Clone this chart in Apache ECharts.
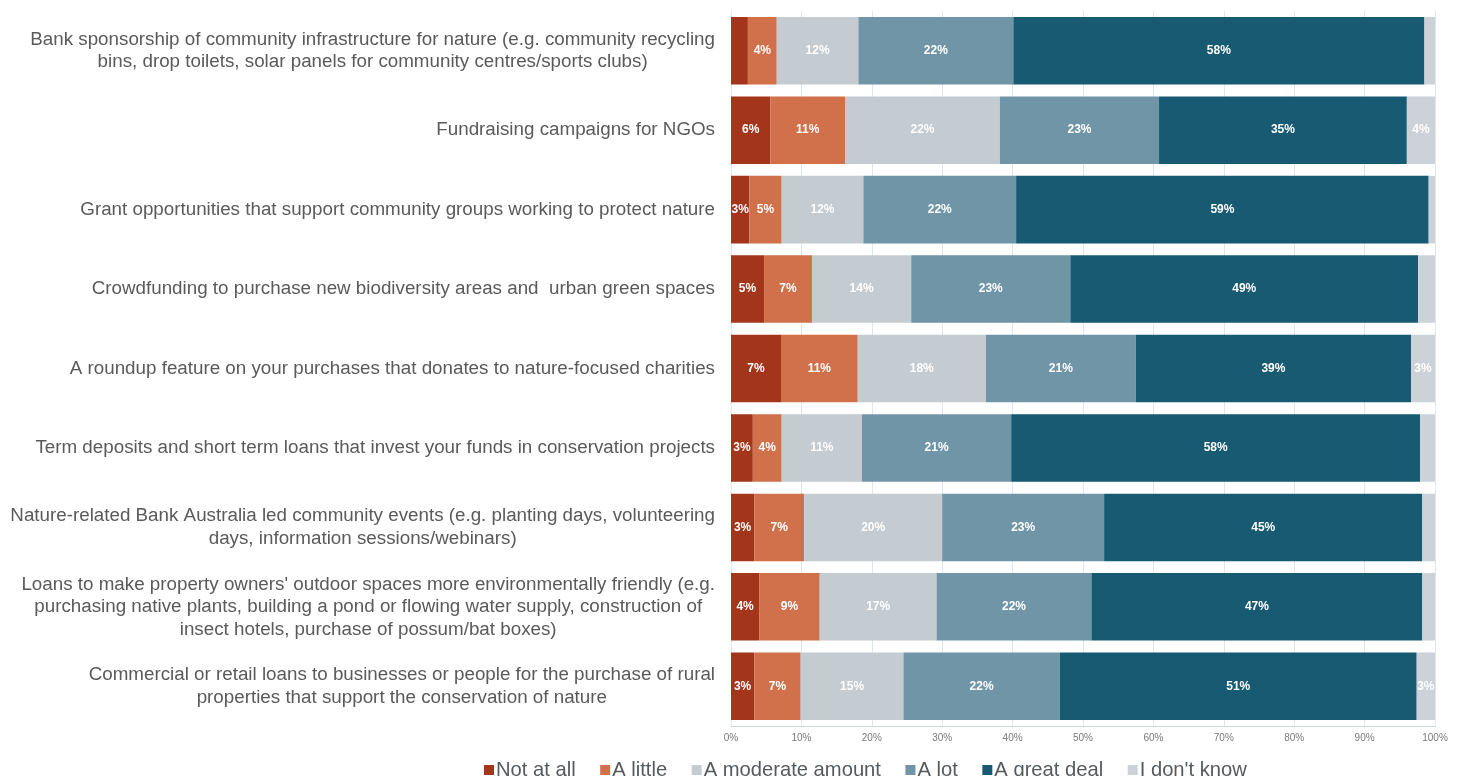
<!DOCTYPE html>
<html>
<head>
<meta charset="utf-8">
<script src="https://cdn.jsdelivr.net/npm/echarts@6/dist/echarts.min.js"></script>
<style>
  html, body { margin: 0; padding: 0; background: #ffffff; }
  #chart { width: 1461px; height: 776px; }
</style>
</head>
<body>
<div id="chart"></div>
<script>
// Survey items (top to bottom)
const categories = [
  "Bank sponsorship of community infrastructure for nature (e.g. community recycling\nbins, drop toilets, solar panels for community centres/sports clubs)",
  "Fundraising campaigns for NGOs",
  "Grant opportunities that support community groups working to protect nature",
  "Crowdfunding to purchase new biodiversity areas and  urban green spaces",
  "A roundup feature on your purchases that donates to nature-focused charities",
  "Term deposits and short term loans that invest your funds in conservation projects",
  "Nature-related Bank Australia led community events (e.g. planting days, volunteering\ndays, information sessions/webinars)",
  "Loans to make property owners' outdoor spaces more environmentally friendly (e.g.\npurchasing native plants, building a pond or flowing water supply, construction of\ninsect hotels, purchase of possum/bat boxes)",
  "Commercial or retail loans to businesses or people for the purchase of rural\nproperties that support the conservation of nature"
];

// Response shares (%) per item
const notAtAll   = [2.4, 5.6, 2.6, 4.7, 7.1, 3.1, 3.3, 4.0, 3.3];
const aLittle    = [4.1, 10.6, 4.6, 6.8, 10.9, 4.1, 7.1, 8.6, 6.6];
const moderate   = [11.6, 22.0, 11.6, 14.1, 18.2, 11.4, 19.6, 16.6, 14.6];
const aLot       = [22.0, 22.6, 21.7, 22.6, 21.3, 21.2, 23.0, 22.0, 22.2];
const greatDeal  = [58.4, 35.2, 58.6, 49.4, 39.1, 58.1, 45.2, 47.0, 50.7];
const dontKnow   = [1.5, 4.0, 0.9, 2.4, 3.4, 2.1, 1.8, 1.8, 2.6];

const seriesNames = ["Not at all", "A little", "A moderate amount", "A lot", "A great deal", "I don't know"];
const seriesData = [notAtAll, aLittle, moderate, aLot, greatDeal, dontKnow];
const colors = ["#a3351a", "#d0714b", "#c4cbd1", "#7095a6", "#175a72", "#ccd2d7"];

const tickLabels = ["0%", "10%", "20%", "30%", "40%", "50%", "60%", "70%", "80%", "90%", "100%"];

const narrowFont = "'Liberation Sans Narrow', 'Arial Narrow', 'Liberation Sans', Arial, sans-serif";
const boldFont = "'Liberation Sans', Arial, sans-serif";

const chart = echarts.init(document.getElementById('chart'), null, { renderer: 'canvas' });

const option = {
  backgroundColor: '#ffffff',
  animation: false,
  color: colors,
  grid: { left: 731, right: 26, top: 11, bottom: 50, containLabel: false },
  legend: {
    data: seriesNames,
    left: 479,
    top: 755,
    itemWidth: 10,
    itemHeight: 10,
    itemGap: 24.5,
    icon: 'rect',
    textStyle: { fontFamily: narrowFont, fontSize: 20.2, color: '#555a5e', padding: [0, 0, 0, -3] }
  },
  xAxis: {
    type: 'value',
    min: 0,
    max: 100,
    interval: 10,
    axisLine: { show: true, lineStyle: { color: '#c9d6de', width: 1 } },
    axisTick: { show: false },
    splitLine: { show: true, lineStyle: { color: '#dfe6ea', width: 1 } },
    axisLabel: {
      margin: 7,
      fontSize: 10,
      color: '#7a7a7a',
      fontFamily: boldFont,
      formatter: v => tickLabels[Math.round(v / 10)]
    }
  },
  yAxis: {
    type: 'category',
    data: categories,
    inverse: true,
    axisLine: { show: true, lineStyle: { color: '#e3e8eb' } },
    axisTick: { show: false },
    axisLabel: {
      margin: 16,
      align: 'right',
      formatter: v => v.split('\n').map(l => '{c|' + l + '}').join('\n'),
      rich: {
        c: {
          align: 'center',
          fontFamily: narrowFont,
          fontSize: 18.8,
          lineHeight: 22.5,
          color: '#5a5a5a'
        }
      }
    }
  },
  series: seriesNames.map((name, i) => ({
    name: name,
    type: 'bar',
    stack: 'total',
    barCategoryGap: '15%',
    data: seriesData[i],
    itemStyle: { color: colors[i] },
    label: {
      show: true,
      position: 'inside',
      color: '#ffffff',
      fontFamily: boldFont,
      fontWeight: 'bold',
      fontSize: 12,
      formatter: p => (Math.round(p.value) >= 3 ? Math.round(p.value) + '%' : '')
    }
  }))
};

chart.setOption(option);
</script>
</body>
</html>
